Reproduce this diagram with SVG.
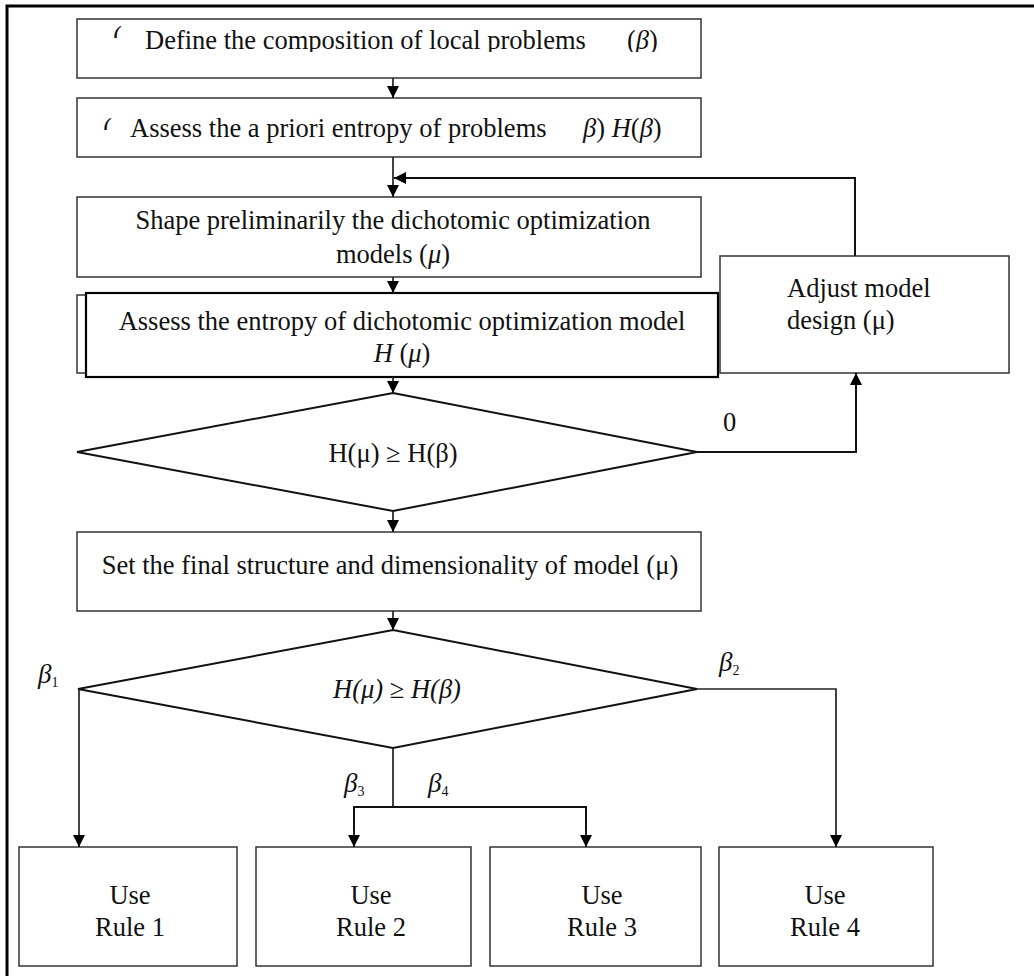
<svg xmlns="http://www.w3.org/2000/svg" width="1034" height="976" viewBox="0 0 1034 976">
<style>
text{font-family:"Liberation Serif","Times New Roman",serif;fill:#111;font-size:26.5px}
.i{font-style:italic}
.box{fill:#fff;stroke:#333;stroke-width:1.5}
.thick{fill:#fff;stroke:#000;stroke-width:2.2}
.ln{fill:none;stroke:#111;stroke-width:2}
.thin{fill:none;stroke:#222;stroke-width:1.7}
.mid{text-anchor:middle}
.b{font-style:italic;font-size:27px}
.sub{font-size:14px;font-style:normal}
</style>
<defs>
<marker id="ah" viewBox="0 0 10 10" refX="10" refY="5" markerWidth="13" markerHeight="12" markerUnits="userSpaceOnUse" orient="auto">
<path d="M0,0 L10,5 L0,10 z" fill="#000"/>
</marker>
<clipPath id="c0"><rect x="78" y="20" width="620" height="32"/></clipPath>
<clipPath id="c1"><rect x="110" y="25" width="12" height="13"/></clipPath>
<clipPath id="c2"><rect x="100" y="117" width="12" height="13"/></clipPath>
</defs>
<rect width="1034" height="976" fill="#fff"/>
<path d="M7,976 V6 H1034" fill="none" stroke="#000" stroke-width="3"/>

<g id="n1">
<rect class="box" x="77" y="19" width="624" height="59"/>
<text x="113" y="45" clip-path="url(#c1)">(</text>
<g clip-path="url(#c0)">
<text x="145" y="49">Define the composition of local problems</text>
<text x="627" y="49" font-size="28">(<tspan class="i">β</tspan>)</text>
</g>
</g>
<g id="n2">
<rect class="box" x="77" y="98" width="624" height="59"/>
<text x="103" y="137" clip-path="url(#c2)">(</text>
<text x="130" y="137">Assess the a priori entropy of problems</text>
<text x="583" y="137" font-size="28"><tspan class="i">β</tspan>) <tspan class="i">H</tspan>(<tspan class="i">β</tspan>)</text>
</g>
<g id="n3">
<rect class="box" x="77" y="197" width="624" height="80"/>
<text class="mid" x="393" y="229">Shape preliminarily the dichotomic optimization</text>
<text class="mid" x="393" y="263">models (<tspan class="i">μ</tspan>)</text>
</g>
<g id="n4">
<rect class="box" x="77" y="295" width="40" height="78"/>
<rect class="thick" x="86" y="293" width="632" height="84"/>
<text class="mid" x="402" y="330">Assess the entropy of dichotomic optimization model</text>
<text class="mid" x="402" y="362"><tspan class="i">H</tspan> (<tspan class="i">μ</tspan>)</text>
</g>
<g id="n5">
<rect class="box" x="720" y="256" width="289" height="117"/>
<text x="787" y="297">Adjust model</text>
<text x="787" y="329">design (μ)</text>
</g>
<g id="d1">
<polygon class="ln" points="393,393 697,452 393,511 77,452"/>
<text class="mid" x="393" y="462" font-size="29.5">H(μ) ≥ H(β)</text>
</g>
<g id="n6">
<rect class="box" x="77" y="532" width="624" height="79"/>
<text class="mid" x="390" y="574">Set the final structure and dimensionality of model (μ)</text>
</g>
<g id="d2">
<polygon class="ln" points="393,630 697,689 393,748 78,689"/>
<text class="mid i" x="397" y="698" font-size="29.5">H(μ) ≥ H(β)</text>
</g>
<g id="r1">
<rect class="box" x="19" y="847" width="218" height="119"/>
<text class="mid" x="130" y="904">Use</text>
<text class="mid" x="130" y="936">Rule 1</text>
</g>
<g id="r2">
<rect class="box" x="256" y="847" width="215" height="119"/>
<text class="mid" x="371" y="904">Use</text>
<text class="mid" x="371" y="936">Rule 2</text>
</g>
<g id="r3">
<rect class="box" x="490" y="847" width="211" height="119"/>
<text class="mid" x="602" y="904">Use</text>
<text class="mid" x="602" y="936">Rule 3</text>
</g>
<g id="r4">
<rect class="box" x="719" y="847" width="214" height="119"/>
<text class="mid" x="825" y="904">Use</text>
<text class="mid" x="825" y="936">Rule 4</text>
</g>

<g id="connectors">
<path class="thin" d="M393,78 V98" marker-end="url(#ah)"/>
<path class="thin" d="M393,157 V197" marker-end="url(#ah)"/>
<path class="ln" d="M855,256 V178 H394" marker-end="url(#ah)"/>
<path class="thin" d="M393,277 V293" marker-end="url(#ah)"/>
<path class="thin" d="M393,377 V393" marker-end="url(#ah)"/>
<path class="ln" d="M697,452 H856 V373" marker-end="url(#ah)"/>
<path class="thin" d="M393,511 V532" marker-end="url(#ah)"/>
<path class="thin" d="M393,611 V630" marker-end="url(#ah)"/>
<path class="thin" d="M79,689 V847" marker-end="url(#ah)"/>
<path class="thin" d="M697,689 H836 V847" marker-end="url(#ah)"/>
<path class="thin" d="M393,748 V807"/>
<path class="ln" d="M354,847 V807 H586 V847"/>
<path class="thin" d="M354,830 V847" marker-end="url(#ah)"/>
<path class="thin" d="M586,830 V847" marker-end="url(#ah)"/>
<text x="723" y="431" font-size="20">0</text>
<text class="b" x="38" y="683">β<tspan class="sub" dy="4">1</tspan></text>
<text class="b" x="719" y="671">β<tspan class="sub" dy="4">2</tspan></text>
<text class="b" x="344" y="792">β<tspan class="sub" dy="4">3</tspan></text>
<text class="b" x="428" y="792">β<tspan class="sub" dy="4">4</tspan></text>
</g>
</svg>
